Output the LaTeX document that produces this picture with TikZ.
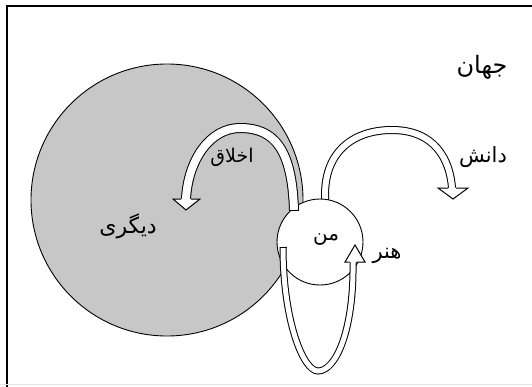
\documentclass[tikz,border=0pt]{standalone}
\usepackage{fontspec}
\newfontfamily\persian[Script=Arabic]{DejaVu Sans}
\TeXXeTstate=1
\tikzset{
  frame/.style={draw=black,line width=1.4pt},
  world/.style={circle,draw=black,line width=0.9pt,inner sep=0pt,outer sep=0pt},
  band/.style={draw=black,line width=1pt,double=white,double distance=#1},
  head/.style={draw=black,fill=white,line width=1pt,line join=miter},
  endcap/.style={draw=black,line width=1pt},
  lbl/.style={font=\persian\fontsize{#1}{#1}\selectfont,inner sep=0pt}
}

\begin{document}
\begin{tikzpicture}[x=1pt,y=-1pt]
  \useasboundingbox (0,0) rectangle (532,386);
  \draw[frame] (540,6) -- (7,6) -- (7,392);
  \draw[gray!20,line width=0.8pt] (0,384.5) -- (532,384.5);

  \node[world,fill=black!22,minimum size=272pt] (other) at (167,200) {};

  \coordinate (art0) at (283,247);
  \coordinate (art1) at (353,262);
  \fill[white] (art0) .. controls (283,320) and (303,371) .. (318,371)
    .. controls (336,371) and (354,330) .. (art1) -- cycle;

  \coordinate (sci0) at (325,215);
  \coordinate (sci1) at (452,188);
  \draw[band=6pt] (sci0) -- (325,195) .. controls (325,150) and (355,130) .. (392,130)
    .. controls (435,130) and (450,160) .. (sci1);

  \node[world,fill=white,minimum size=86pt] (me) at (320,242) {};

  \coordinate (eth0) at (294,210);
  \coordinate (eth1) at (186,199);
  \draw[band=8pt] (eth0) .. controls (292,150) and (275,128) .. (240,128)
    .. controls (210,128) and (188,160) .. (eth1);
  \draw[endcap] (289,210) -- (299,210);
  \filldraw[head] (181,199) -- (173,199) -- (186,210) -- (200,199) -- (191,199);

  \filldraw[head] (448,188) -- (438,188) -- (453,199) -- (468,188) -- (456,188);

  \draw[band=5pt] (art0) .. controls (283,320) and (303,371) .. (318,371)
    .. controls (336,371) and (354,330) .. (art1);
  \draw[endcap] (279.5,247) -- (286.5,247);
  \filldraw[head] (349.5,262) -- (345,262) -- (355,245) -- (365,262) -- (356.5,262);

  \node[lbl=24] (world)  at (482,67)  {\beginR جهان\endR};
  \node[lbl=21] (sci)    at (483,157) {\beginR دانش\endR};
  \node[lbl=19] (eth)    at (232,157) {\beginR اخلاق\endR};
  \node[lbl=22] (otherl) at (128,226) {\beginR دیگری\endR};
  \node[lbl=20] (mel)    at (326,240) {\beginR من\endR};
  \node[lbl=21] (art)    at (387,256) {\beginR هنر\endR};
\end{tikzpicture}
\end{document}
